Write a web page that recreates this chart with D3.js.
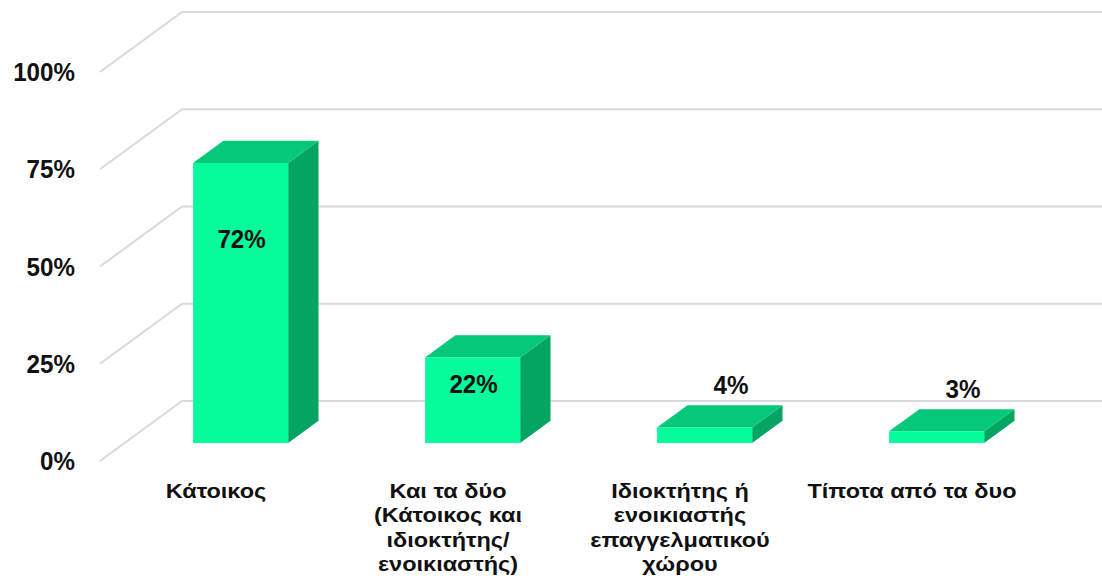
<!DOCTYPE html>
<html>
<head>
<meta charset="utf-8">
<script src="https://cdn.jsdelivr.net/npm/d3@7"></script>
<style>
  html, body { margin: 0; padding: 0; background: #fff; }
  svg { display: block; }
  text { font-family: "Liberation Sans", Arial, sans-serif; font-weight: bold; fill: #111; }
</style>
</head>
<body>
<svg id="chart" width="1102" height="585"></svg>
<script>
// Survey answers and their shares
const categories = [
  "Κάτοικος",
  "Και τα δύο (Κάτοικος και ιδιοκτήτης/ ενοικιαστής)",
  "Ιδιοκτήτης ή ενοικιαστής επαγγελματικού χώρου",
  "Τίποτα από τα δυο"
];
const categoryLines = [
  ["Κάτοικος"],
  ["Και τα δύο", "(Κάτοικος και", "ιδιοκτήτης/", "ενοικιαστής)"],
  ["Ιδιοκτήτης ή", "ενοικιαστής", "επαγγελματικού", "χώρου"],
  ["Τίποτα από τα δυο"]
];
const values = [0.72, 0.22, 0.04, 0.03];
const valueLabels = ["72%", "22%", "4%", "3%"];
const yTicks = [0, 0.25, 0.5, 0.75, 1];
const yTickLabels = ["0%", "25%", "50%", "75%", "100%"];

const svg = d3.select("#chart");

// Oblique projection: the back wall carries the value scale, depth shifts right/up
const depth = { dx: 82, dy: -60 };
const y = d3.scaleLinear().domain([0, 1]).range([401, 12]);
const x = d3.scaleBand().domain(categories).range([100, 1028]).paddingInner(0.59).paddingOuter(0.295);

// point at front-plane x, value v, depth fraction d (0 = front, 1 = back wall)
function pt(xf, v, d) {
  return [xf + depth.dx * d, y(v) - depth.dy * (1 - d)];
}

const colors = { front: "#06FB9A", top: "#05C87A", side: "#04A463", grid: "#D9D9D9" };

// gridlines: back wall horizontals plus the slanted lines on the left wall
const grid = svg.append("g");
yTicks.forEach(t => {
  const f = pt(100, t, 0), b = pt(100, t, 1);
  grid.append("line")
    .attr("x1", f[0]).attr("y1", f[1]).attr("x2", b[0]).attr("y2", b[1])
    .attr("stroke", colors.grid).attr("stroke-width", 2);
  grid.append("line")
    .attr("x1", b[0]).attr("y1", b[1]).attr("x2", 1102).attr("y2", b[1])
    .attr("stroke", colors.grid).attr("stroke-width", 2);
});

// helper: text drawn with a horizontal squeeze/stretch around its anchor
function label(parent, x0, y0, sx, size, anchor, str) {
  return parent.append("g")
    .attr("transform", `translate(${x0},${y0}) scale(${sx},1)`)
    .append("text")
    .attr("font-size", size)
    .attr("text-anchor", anchor)
    .text(str);
}

// y-axis labels on the front edge
const yAxis = svg.append("g");
yTicks.forEach((t, i) => {
  label(yAxis, 75, pt(100, t, 0)[1] + 9, 0.93, 26, "end", yTickLabels[i]);
});

// 3D bars
const d0 = 0.3, d1 = 0.67;
const bars = svg.append("g");
const bw = x.bandwidth();
const poly = pts => pts.map(p => p.join(",")).join(" ");
categories.forEach((c, i) => {
  const v = values[i];
  const x0 = x(c), x1 = x(c) + bw;
  bars.append("polygon")   // right side
    .attr("points", poly([pt(x1, 0, d0), pt(x1, 0, d1), pt(x1, v, d1), pt(x1, v, d0)]))
    .attr("fill", colors.side);
  bars.append("polygon")   // top
    .attr("points", poly([pt(x0, v, d0), pt(x1, v, d0), pt(x1, v, d1), pt(x0, v, d1)]))
    .attr("fill", colors.top);
  bars.append("polygon")   // front
    .attr("points", poly([pt(x0, 0, d0), pt(x1, 0, d0), pt(x1, v, d0), pt(x0, v, d0)]))
    .attr("fill", colors.front);
});

// value labels: inside the tall bars, above the flat ones
const vals = svg.append("g");
values.forEach((v, i) => {
  const c = categories[i];
  const cx = x(c) + bw / 2;
  let lx, ly;
  if (v > 0.1) {
    lx = pt(cx, 0, d0)[0] + 1;
    ly = pt(0, v * 0.745, d0)[1] + 14;
  } else {
    lx = pt(cx, 0, d1)[0] - 4;
    ly = pt(0, v, d1)[1] - 11;
  }
  label(vals, lx, ly, 0.93, 26, "middle", valueLabels[i]);
});

// category labels below the floor
const cat = svg.append("g");
categories.forEach((c, i) => {
  const g = cat.append("g")
    .attr("transform", `translate(${x(c) + bw / 2},498) scale(1.12,1)`);
  const t = g.append("text")
    .attr("font-size", 21)
    .attr("text-anchor", "middle");
  categoryLines[i].forEach((line, k) => {
    t.append("tspan")
      .attr("x", 0)
      .attr("dy", k === 0 ? 0 : 24.5)
      .text(line);
  });
});
</script>
</body>
</html>
